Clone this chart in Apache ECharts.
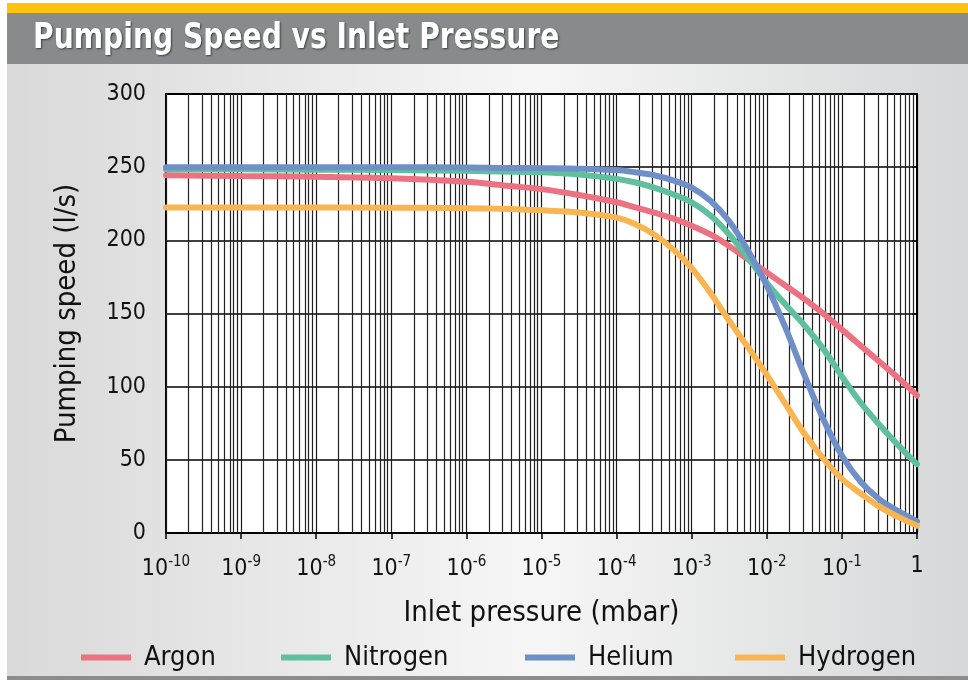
<!DOCTYPE html>
<html>
<head>
<meta charset="utf-8">
<script src="https://cdn.jsdelivr.net/npm/echarts@6/dist/echarts.min.js"></script>
<style>
html,body{margin:0;padding:0;background:#fff;}
#chart{width:968px;height:680px;}
</style>
</head>
<body>
<div id="chart"></div>
<script>
// ---- data ----
const pressures = [1e-10, 1e-9, 1e-8, 1e-7, 1e-6, 3.16e-6, 1e-5, 3.16e-5, 1e-4, 1.78e-4, 3.16e-4, 5.62e-4, 1e-3, 1.78e-3, 3.16e-3, 5.62e-3, 1e-2, 1.78e-2, 3.16e-2, 5.62e-2, 0.1, 0.178, 0.316, 0.562, 1];
const argon    = [244.5, 244, 243.5, 242.5, 240, 237.5, 235, 231, 226, 222.5, 219, 215, 210, 204, 196, 187, 178, 169, 160, 150, 139, 128, 117, 106, 94];
const nitrogen = [248.5, 248.5, 248.3, 248, 247.5, 247, 246.5, 245, 242, 239.5, 236, 231.5, 226, 217, 204, 188, 171, 156, 142, 126, 107, 89, 74, 60, 47];
const helium   = [250, 250, 250, 250, 249.7, 249.5, 249.3, 249, 248, 246.5, 244.5, 241, 236, 227, 213, 193, 169, 140, 108, 78, 53, 35, 23, 15, 8];
const hydrogen = [222.5, 222.5, 222.5, 222.3, 222, 221.5, 220.5, 219, 215.5, 211, 204, 194, 181, 164, 145, 127, 108, 88, 68, 51, 37, 27, 18, 11, 5];
const seriesNames = ['Argon', 'Nitrogen', 'Helium', 'Hydrogen'];
const seriesColors = ['#EC7282', '#5FBF9F', '#6F8FC8', '#F9B552'];
const seriesData = [argon, nitrogen, helium, hydrogen];
const yTicks = [0, 50, 100, 150, 200, 250, 300];
const decades = [-10, -9, -8, -7, -6, -5, -4, -3, -2, -1, 0];   // x tick labels: 10^n
const title = 'Pumping Speed vs Inlet Pressure';
const xName = 'Inlet pressure (mbar)';
const yName = 'Pumping speed (l/s)';

const FONT = "'Liberation Sans Narrow', 'Arial Narrow', 'DejaVu Sans Condensed', sans-serif";

// minor log gridlines (2..9 within each decade), in log10 units
const minorLines = [];
for (let i = 0; i < decades.length - 1; i++) {
  for (let k = 2; k <= 9; k++) {
    minorLines.push({ xAxis: decades[i] + Math.log10(k) });
  }
}

const chart = echarts.init(document.getElementById('chart'), null, { renderer: 'canvas' });

const series = seriesNames.map((name, i) => ({
  name: name,
  type: 'line',
  data: pressures.map((p, j) => [Math.log10(p), seriesData[i][j]]),
  smooth: 0.35,
  showSymbol: false,
  symbol: 'none',
  lineStyle: { width: 6, color: seriesColors[i], cap: 'round' },
  itemStyle: { color: seriesColors[i] },
  z: 5 + i,
  animation: false
}));

series.unshift({
  name: '_grid',
  type: 'line',
  data: [],
  silent: true,
  z: 1,
  markLine: {
    silent: true,
    symbol: ['none', 'none'],
    label: { show: false },
    lineStyle: { color: '#222', width: 1.2, type: 'solid' },
    emphasis: { disabled: true },
    animation: false,
    data: minorLines
  }
});

const legends = seriesNames.map((name, i) => ({
  data: [name],
  left: [76, 276, 520, 730][i],
  top: 639,
  icon: 'rect',
  itemWidth: 50,
  itemHeight: 6,
  itemGap: 0,
  textStyle: { fontFamily: FONT, fontSize: 27, color: '#111', padding: [0, 0, 0, 8] },
  selectedMode: false
}));

const option = {
  animation: false,
  backgroundColor: '#ffffff',
  graphic: [
    { type: 'rect', z: -10, shape: { x: 7, y: 3, width: 961, height: 10 }, style: { fill: '#FFC20E' } },
    { type: 'rect', z: -10, shape: { x: 7, y: 13, width: 961, height: 51 }, style: { fill: '#888B8B' } },
    { type: 'rect', z: -10, shape: { x: 7, y: 64, width: 961, height: 612 },
      style: { fill: new echarts.graphic.LinearGradient(0, 0, 1, 0, [
        { offset: 0, color: '#D9D9D9' },
        { offset: 0.55, color: '#F6F6F6' },
        { offset: 1, color: '#D6D7D8' }
      ]) } },
    { type: 'rect', z: -10, shape: { x: 7, y: 676, width: 961, height: 4 }, style: { fill: '#8C8C8C' } },
    { type: 'text', z: 10, x: 33, y: 21, scaleX: 0.87, scaleY: 1,
      style: { text: title, font: "bold 36px " + FONT, fill: '#ffffff',
               textShadowColor: 'rgba(0,0,0,0.55)', textShadowBlur: 2, textShadowOffsetX: 1, textShadowOffsetY: 1 } }
  ],
  legend: legends,
  grid: {
    left: 166, right: 51, top: 94, bottom: 147,
    show: true, backgroundColor: '#ffffff', borderColor: '#000', borderWidth: 2
  },
  xAxis: {
    type: 'value',
    min: decades[0],
    max: decades[decades.length - 1],
    interval: 1,
    name: xName,
    nameLocation: 'middle',
    nameGap: 66,
    nameTextStyle: { fontFamily: FONT, fontSize: 29, color: '#111' },
    axisLine: { show: true, lineStyle: { color: '#000', width: 2 } },
    axisTick: { show: true, length: 6, inside: false, lineStyle: { color: '#000', width: 1.5 } },
    splitLine: { show: true, lineStyle: { color: '#1a1a1a', width: 1.2 } },
    axisLabel: {
      margin: 22,
      fontFamily: FONT,
      color: '#111',
      formatter: function (v) {
        const e = Math.round(v);
        if (e === 0) return '{b|1}';
        return '{b|10}{s|' + e + '}';
      },
      rich: {
        b: { fontFamily: FONT, fontSize: 23, color: '#111' },
        s: { fontFamily: FONT, fontSize: 15, color: '#111', padding: [0, 0, 13, 0] }
      }
    }
  },
  yAxis: {
    type: 'value',
    min: yTicks[0],
    max: yTicks[yTicks.length - 1],
    interval: 50,
    name: yName,
    nameLocation: 'middle',
    nameRotate: 90,
    nameGap: 84,
    nameTextStyle: { fontFamily: FONT, fontSize: 29, color: '#111' },
    axisLine: { show: true, lineStyle: { color: '#000', width: 2 } },
    axisTick: { show: true, length: 5, lineStyle: { color: '#000', width: 1.5 } },
    splitLine: { show: true, lineStyle: { color: '#000', width: 1.5 } },
    axisLabel: { margin: 20, fontFamily: FONT, fontSize: 23, color: '#111' }
  },
  series: series
};

chart.setOption(option);
</script>
</body>
</html>
